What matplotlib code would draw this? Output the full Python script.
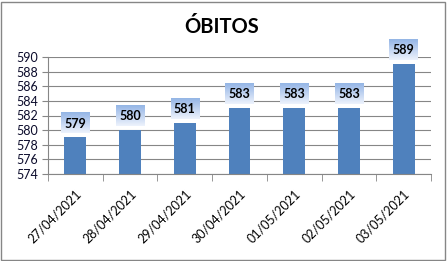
import matplotlib.pyplot as plt
import numpy as np
from matplotlib.patches import Rectangle

plt.rcParams["font.family"] = ["Lato", "DejaVu Sans"]

dates = ["27/04/2021", "28/04/2021", "29/04/2021", "30/04/2021",
         "01/05/2021", "02/05/2021", "03/05/2021"]
obitos = [579, 580, 581, 583, 583, 583, 589]
yticks = [574, 576, 578, 580, 582, 584, 586, 588, 590]

fig = plt.figure(figsize=(4.47, 2.61), dpi=100)
ax = fig.add_axes([48 / 447, 1 - 174 / 261, 383 / 447, 117 / 261])

x = np.arange(len(dates))
ax.bar(x, obitos, width=0.40, color="#4F81BD", zorder=2)

# caixas de rótulo com degradê acima de cada barra
grad = np.linspace(0, 1, 64).reshape(-1, 1)
top = np.array([0.58, 0.71, 0.90])
bot = np.array([0.93, 0.95, 0.99])
img = bot + (top - bot) * grad[:, :, None]
img = img[::-1]
for xi, v in zip(x, obitos):
    ax.imshow(img, extent=(xi - 0.26, xi + 0.26, v + 0.55, v + 3.3),
              aspect="auto", zorder=3, clip_on=False, origin="upper")
    ax.text(xi, v + 1.9, str(v), ha="center", va="center", fontsize=9,
            fontweight="bold", color="black", zorder=4)

ax.set_xlim(-0.5, len(dates) - 0.5)
ax.set_ylim(yticks[0], yticks[-1])
ax.set_yticks(yticks)
ax.set_yticklabels([str(t) for t in yticks], fontsize=9, color="#0b0b2b")
ax.set_xticks(x)
ax.set_xticklabels(dates, rotation=45, ha="right", rotation_mode="anchor",
                   fontsize=9)
ax.set_xticks(np.arange(len(dates) + 1) - 0.5, minor=True)
ax.tick_params(axis="x", which="major", length=0, pad=10)
ax.tick_params(axis="x", which="minor", length=5, color="#868686")
ax.tick_params(axis="y", length=4, color="#868686", pad=3)
ax.grid(axis="y", color="#868686", linewidth=0.8, zorder=1)
ax.set_axisbelow(True)
for s in ["top", "right"]:
    ax.spines[s].set_visible(False)
ax.spines["left"].set_color("#868686")
ax.spines["bottom"].set_color("#868686")

fig.text(222 / 447, 1 - 27 / 261, "ÓBITOS", ha="center", va="center",
         fontsize=14.5, fontweight="bold")

fig.patches.append(Rectangle((1 / 447, 1 / 261), 444 / 447, 258 / 261,
                             transform=fig.transFigure, fill=False,
                             edgecolor="#868686", linewidth=1))

fig.savefig("out.png", dpi=100)
